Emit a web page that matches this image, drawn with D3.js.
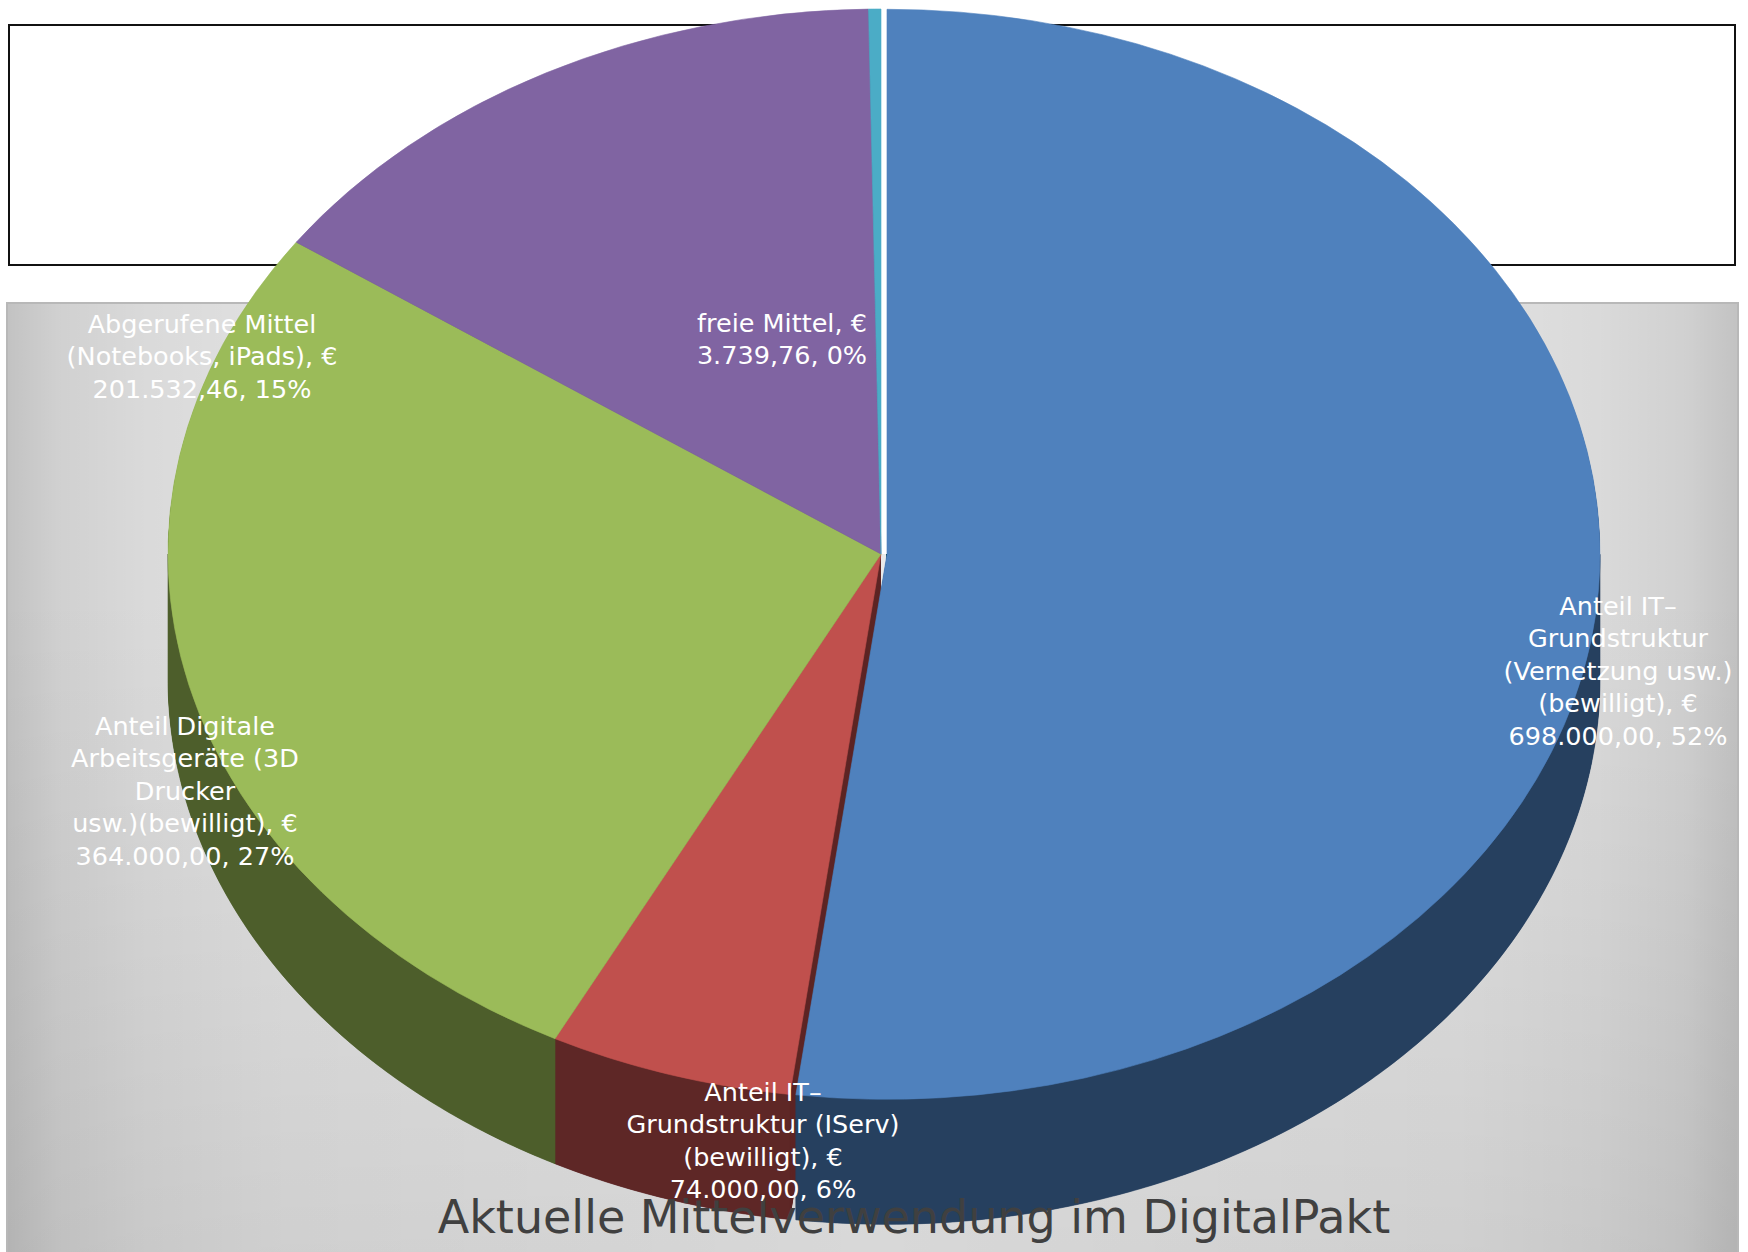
<!DOCTYPE html>
<html lang="de">
<head>
<meta charset="utf-8">
<script src="https://d3js.org/d3.v7.min.js"></script>
<style>
  html, body { margin: 0; padding: 0; background: #fff; }
  #plot { position: absolute; left: 0; top: 0; width: 1748px; height: 1252px; }
</style>
</head>
<body>
<div id="plot"></div>
<script>
// data
const categories = [
  "Anteil IT-Grundstruktur (Vernetzung usw.) (bewilligt)",
  "Anteil IT-Grundstruktur (IServ) (bewilligt)",
  "Anteil Digitale Arbeitsgeräte (3D Drucker usw.)(bewilligt)",
  "Abgerufene Mittel (Notebooks, iPads)",
  "freie Mittel"
];
const values = [698000, 74000, 364000, 201532.46, 3739.76];
const topColors = ["#4f81bd", "#c0504d", "#9bbb59", "#8064a2", "#4bacc6"];
const sideColors = ["#26405f", "#5e2726", "#4d5e2b", "#3f3152", "#22596a"];
const explode = [6, 0, 0, 0, 0];

// label text as Excel wrapped it (value line is added from the data)
const labelLines = [
  ["Anteil IT–", "Grundstruktur", "(Vernetzung usw.)", "(bewilligt), €"],
  ["Anteil IT–", "Grundstruktur (IServ)", "(bewilligt), €"],
  ["Anteil Digitale", "Arbeitsgeräte (3D", "Drucker", "usw.)(bewilligt), €"],
  ["Abgerufene Mittel", "(Notebooks, iPads), €"],
  ["freie Mittel, €"]
];
const labelPos = [[1618, 615], [763, 1101], [185, 735], [202, 333], [782, 332]];
const title = "Aktuelle Mittelverwendung im DigitalPakt";

// set-up
const width = 1748, height = 1252;
const cx = 881, cy = 554, rx = 713, ry = 545, depth = 125;
const squash = ry / rx;

const de = d3.formatLocale({decimal: ",", thousands: ".", grouping: [3], currency: ["", " €"]});
const fmtVal = de.format(",.2f");
const total = d3.sum(values);

const svg = d3.select("#plot").append("svg")
    .attr("width", width)
    .attr("height", height);

const defs = svg.append("defs");
const hGrad = defs.append("linearGradient").attr("id", "hshade")
    .attr("x1", 0).attr("y1", 0).attr("x2", 1).attr("y2", 0);
[[0, 0.17], [0.03, 0.11], [0.08, 0.07], [0.16, 0.04], [0.5, 0], [0.84, 0.04], [0.92, 0.07], [0.97, 0.11], [1, 0.17]]
  .forEach(s => hGrad.append("stop").attr("offset", s[0]).attr("stop-color", "#000").attr("stop-opacity", s[1]));
const vGrad = defs.append("linearGradient").attr("id", "vshade")
    .attr("x1", 0).attr("y1", 0).attr("x2", 0).attr("y2", 1);
[[0, 0], [0.3, 0], [1, 0.08]]
  .forEach(s => vGrad.append("stop").attr("offset", s[0]).attr("stop-color", "#000").attr("stop-opacity", s[1]));

// title box (top)
svg.append("rect")
    .attr("x", 9).attr("y", 25).attr("width", 1726).attr("height", 240)
    .attr("fill", "#fff").attr("stroke", "#111").attr("stroke-width", 2);

// gray plot panel
const panel = {x: 7, y: 303, w: 1731, h: 960};
["#eaeaea", "url(#hshade)", "url(#vshade)"].forEach(f => {
  svg.append("rect")
      .attr("x", panel.x).attr("y", panel.y).attr("width", panel.w).attr("height", panel.h)
      .attr("fill", f);
});
svg.append("rect")
    .attr("x", panel.x).attr("y", panel.y).attr("width", panel.w).attr("height", panel.h)
    .attr("fill", "none").attr("stroke", "#b8b8b8").attr("stroke-width", 2);

// 3d pie
const arcs = d3.pie().sort(null).value(d => d)(values);
const arc = d3.arc().innerRadius(0).outerRadius(rx);

function shift(d, i) {
  const m = (d.startAngle + d.endAngle) / 2;
  return [explode[i] * Math.sin(m), -explode[i] * Math.cos(m)];
}
function offset(d, i) {
  const s = shift(d, i);
  return `translate(${s[0]},${s[1]})`;
}

const pieG = svg.append("g");

// radial walls: stacked layers from the bottom up (only show through gaps)
for (let k = depth; k >= 1; k -= 1) {
  pieG.append("g")
      .attr("transform", `translate(${cx},${cy + k}) scale(1,${squash})`)
    .selectAll("path")
    .data(arcs)
    .join("path")
      .attr("d", arc)
      .attr("transform", offset)
      .attr("fill", (d, i) => sideColors[i]);
}

// outer walls: front half of each slice rim, drawn as one clean shape
const line = d3.line();
arcs.forEach((d, i) => {
  const a = Math.max(d.startAngle, Math.PI / 2);
  const b = Math.min(d.endAngle, 3 * Math.PI / 2);
  if (b <= a) return;
  const s = shift(d, i);
  const steps = Math.max(4, Math.ceil((b - a) * 120));
  const ts = d3.range(steps + 1).map(j => a + (b - a) * j / steps);
  const top = ts.map(t => [cx + s[0] + rx * Math.sin(t), cy + s[1] * squash - ry * Math.cos(t)]);
  const bottom = top.map(p => [p[0], p[1] + depth]).reverse();
  pieG.append("path")
      .attr("d", line(top.concat(bottom)) + "Z")
      .attr("fill", sideColors[i])
      .attr("stroke", sideColors[i])
      .attr("stroke-width", 0.6);
});

const topG = pieG.append("g")
    .attr("transform", `translate(${cx},${cy}) scale(1,${squash})`);

// white gap left behind by the exploded slice
topG.append("path")
    .attr("d", arc({startAngle: 0, endAngle: Math.PI / 2}))
    .attr("fill", "#fff");

topG.selectAll("path.slice")
  .data(arcs)
  .join("path")
    .attr("class", "slice")
    .attr("d", arc)
    .attr("transform", offset)
    .attr("fill", (d, i) => topColors[i])
    .attr("stroke", (d, i) => topColors[i])
    .attr("stroke-width", 0.6)
    .attr("vector-effect", "non-scaling-stroke");

// chart title (bottom)
svg.append("text")
    .attr("x", 914).attr("y", 1233)
    .attr("text-anchor", "middle")
    .style("font-family", "'DejaVu Sans', sans-serif")
    .style("font-size", "46px")
    .attr("fill", "#404040")
    .text(title);

// data labels
const lineH = 32.4;
const labels = svg.append("g")
    .style("font-family", "'DejaVu Sans', sans-serif")
    .style("font-size", "25.5px")
    .attr("fill", "#fff")
    .attr("text-anchor", "middle");

values.forEach((v, i) => {
  const pct = Math.round(v / total * 100);
  const lines = labelLines[i].concat([fmtVal(v) + ", " + pct + "%"]);
  const t = labels.append("text")
      .attr("x", labelPos[i][0]).attr("y", labelPos[i][1]);
  lines.forEach((l, j) => {
    t.append("tspan")
        .attr("x", labelPos[i][0])
        .attr("dy", j === 0 ? 0 : lineH)
        .text(l);
  });
});
</script>
</body>
</html>
